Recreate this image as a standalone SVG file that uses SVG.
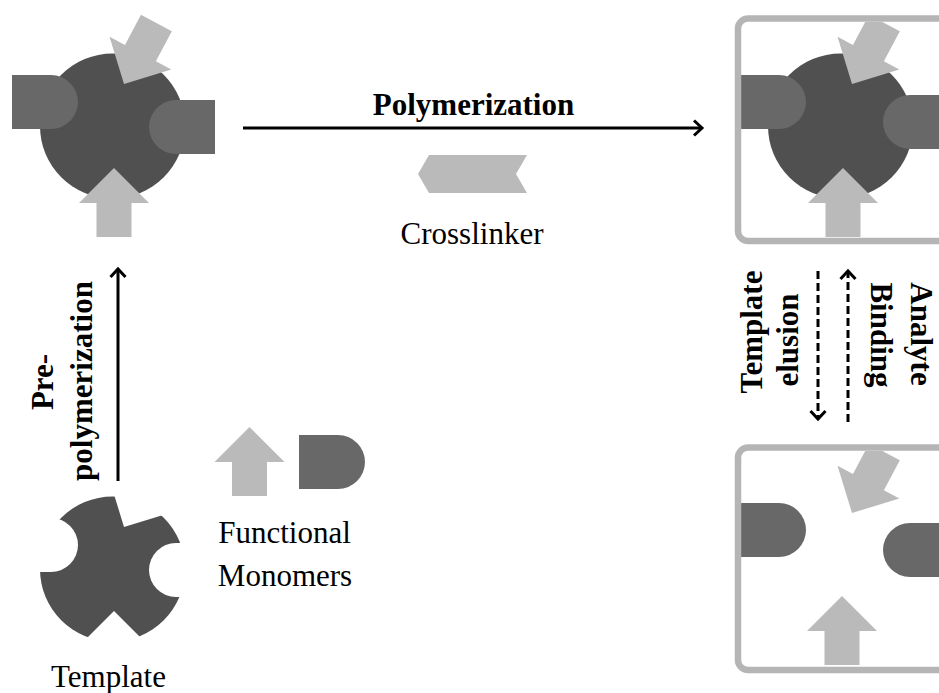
<svg xmlns="http://www.w3.org/2000/svg" width="939" height="693" viewBox="0 0 939 693">
<style>
.dark{fill:#505050}
.mid{fill:#686868}
.light{fill:#bababa}
.box{fill:none;stroke:#b5b5b5;stroke-width:6.5}
.t{font-family:"Liberation Serif","Times New Roman",serif;font-size:31px;fill:#000}
.b{font-weight:bold}
.c{text-anchor:middle}
.conn{stroke:#000;stroke-width:3;fill:none}
.dash{stroke-dasharray:8 4}
</style>
<defs>
<path id="dR" d="M0,0 H39 A27,27 0 0 1 39,54 H0 Z"/>
<path id="dL" d="M66,0 H27 A27,27 0 0 0 27,54 H66 Z"/>
<path id="arr" d="M0,0 L35,35 L17.5,35 L17.5,69 L-17.5,69 L-17.5,35 L-35,35 Z"/>
<marker id="ah" markerUnits="userSpaceOnUse" markerWidth="16" markerHeight="20" viewBox="-12 -10 16 20" refX="0" refY="0" orient="auto">
<path d="M-8,-7.5 L0,0 L-8,7.5" fill="none" stroke="#000" stroke-width="3"/>
</marker>
<mask id="tmask" maskUnits="userSpaceOnUse" x="0" y="400" width="260" height="293">
<rect x="0" y="400" width="260" height="293" fill="#fff"/>
<use href="#dR" transform="translate(12,518)" fill="#000"/>
<use href="#dL" transform="translate(149,543)" fill="#000"/>
<use href="#arr" transform="translate(114,611)" fill="#000"/>
<use href="#arr" transform="translate(124,527) rotate(208)" fill="#000"/>
</mask>
<clipPath id="clipTop"><rect x="741" y="22" width="210" height="216"/></clipPath>
<clipPath id="clipBot"><rect x="741" y="451" width="210" height="216"/></clipPath>
</defs>

<g id="complex">
<circle class="dark" cx="112.5" cy="126" r="72.5"/>
<use href="#dR" class="mid" transform="translate(12,75)"/>
<use href="#dL" class="mid" transform="translate(149,100)"/>
<use href="#arr" class="light" transform="translate(114,168)"/>
<use href="#arr" class="light" transform="translate(124,84) rotate(208)"/>
</g>

<g id="template">
<circle class="dark" cx="112.5" cy="569" r="72.5" mask="url(#tmask)"/>
<text class="t c" x="108.5" y="687">Template</text>
</g>

<g id="monomers">
<use href="#arr" class="light" transform="translate(249.5,427)"/>
<use href="#dR" class="mid" transform="translate(299,435)"/>
<text class="t c" x="284.5" y="543">Functional</text>
<text class="t c" x="285" y="586">Monomers</text>
</g>

<g id="crosslinker">
<polygon class="light" points="418,174 429,155 527,155 516,174 527,193 429,193"/>
<text class="t c" x="472" y="244">Crosslinker</text>
</g>

<g id="mip">
<g clip-path="url(#clipTop)">
<circle class="dark" cx="840.5" cy="126" r="72.5"/>
<use href="#dR" class="mid" transform="translate(740,75)"/>
<use href="#dL" class="mid" transform="translate(883,95)"/>
<use href="#arr" class="light" transform="translate(843,168)"/>
<use href="#arr" class="light" transform="translate(852,84) rotate(208)"/>
</g>
<rect class="box" x="738" y="18.5" width="210" height="222.5" rx="10"/>
</g>

<g id="mip-empty">
<g clip-path="url(#clipBot)">
<use href="#dR" class="mid" transform="translate(740,503)"/>
<use href="#dL" class="mid" transform="translate(883,523)"/>
<use href="#arr" class="light" transform="translate(842,596)"/>
<use href="#arr" class="light" transform="translate(852,513) rotate(208)"/>
</g>
<rect class="box" x="738" y="447.5" width="210" height="222.5" rx="10"/>
</g>

<g id="connectors">
<line class="conn" x1="243" y1="128" x2="702" y2="128" marker-end="url(#ah)"/>
<line class="conn" x1="118" y1="481" x2="118" y2="269" marker-end="url(#ah)"/>
<line class="conn dash" x1="818" y1="271" x2="818" y2="419" marker-end="url(#ah)"/>
<line class="conn dash" x1="848" y1="422" x2="848" y2="271" marker-end="url(#ah)"/>
</g>

<g id="labels">
<text class="t b c" x="473.5" y="115">Polymerization</text>
<text class="t b c" transform="translate(53,382) rotate(-90)">Pre-</text>
<text class="t b c" transform="translate(92,381) rotate(-90)">polymerization</text>
<text class="t b c" transform="translate(762,332) rotate(-90)">Template</text>
<text class="t b c" transform="translate(798,340) rotate(-90)">elusion</text>
<text class="t b c" transform="translate(911,334) rotate(90)">Analyte</text>
<text class="t b c" transform="translate(871,335) rotate(90)">Binding</text>
</g>
</svg>
